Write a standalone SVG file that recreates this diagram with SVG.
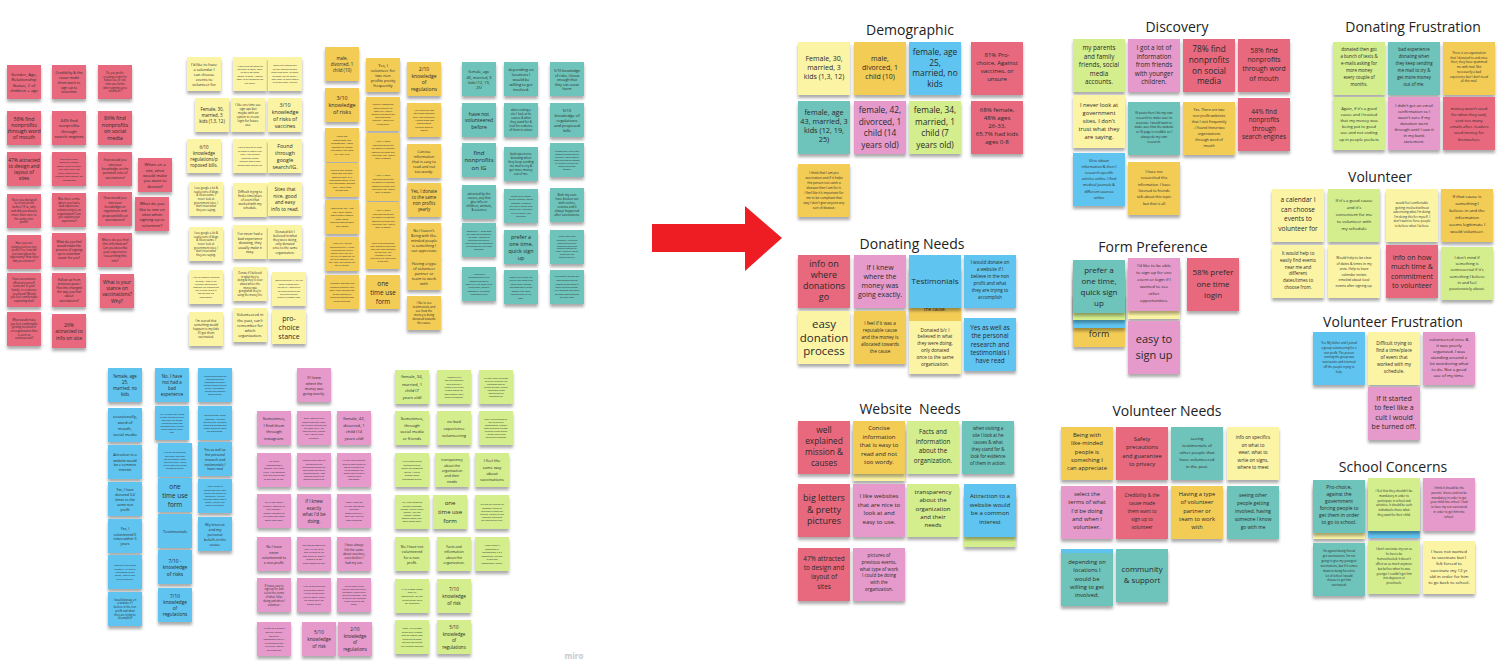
<svg xmlns="http://www.w3.org/2000/svg" width="1500" height="661" viewBox="0 0 1500 661">
<defs>
<filter id="sh" x="-20%" y="-20%" width="140%" height="160%"><feDropShadow dx="0" dy="3" stdDeviation="1.6" flood-color="#000" flood-opacity="0.33"/></filter>
<style>
rect{filter:url(#sh)}
.r{fill:#E8697D}.p{fill:#E59ACB}.y{fill:#FCF4A5}.g{fill:#F3CC57}.b{fill:#5EC4EF}.t{fill:#6EC3BA}.l{fill:#D4EE8D}
text{font-family:"Open Sans","Noto Sans",sans-serif;fill:#2a2a2a;text-anchor:middle;dominant-baseline:central}
.ttl{font-size:14px;fill:#222;dominant-baseline:auto}
.arrow{fill:#EE1D23}
.miro{fill:#c9c9c9;font-weight:bold;dominant-baseline:auto}
</style>
</defs>
<rect width="1500" height="661" fill="#ffffff" style="filter:none"/>

<g id="connectors">
<polygon class="arrow" points="652,224 745,224 745,206 782,238 745,271 745,252 652,252"/>
</g>

<!-- LEFT: red questions -->
<g id="c1r1"><rect class="r" x="7" y="65" width="34" height="34"/><text x="24" y="74" font-size="4.3">Gender, Age,<tspan x="24" dy="5.3">Relationship</tspan><tspan x="24" dy="5.3">Status, # of</tspan><tspan x="24" dy="5.3">children + age</tspan></text></g>
<g id="c1r2"><rect class="r" x="7" y="111" width="34" height="34"/><text x="24" y="118.5" font-size="5.2">58% find<tspan x="24" dy="6.3">nonprofits</tspan><tspan x="24" dy="6.3">through word</tspan><tspan x="24" dy="6.3">of mouth</tspan></text></g>
<g id="c1r3"><rect class="r" x="7" y="152" width="34" height="34"/><text x="24" y="160" font-size="4.9">47% attracted<tspan x="24" dy="6">to design and</tspan><tspan x="24" dy="6">layout of</tspan><tspan x="24" dy="6">sites</tspan></text></g>
<g id="c1r4"><rect class="r" x="7" y="194" width="34" height="34"/><text x="24" y="199.6" font-size="2.9">Have you donated<tspan x="24" dy="3.8">to a non profit</tspan><tspan x="24" dy="3.8">before? If so, why</tspan><tspan x="24" dy="3.8">and did you donate</tspan><tspan x="24" dy="3.8">more than once to</tspan><tspan x="24" dy="3.8">the same non-</tspan><tspan x="24" dy="3.8">profit?</tspan></text></g>
<g id="c1r5"><rect class="r" x="7" y="235" width="34" height="34"/><text x="24" y="243" font-size="2.6">Have you ever<tspan x="24" dy="3.6">volunteered to a non-</tspan><tspan x="24" dy="3.6">profit? If so, how did</tspan><tspan x="24" dy="3.6">you learn about the</tspan><tspan x="24" dy="3.6">opportunity? How often</tspan><tspan x="24" dy="3.6">did you volunteer?</tspan></text></g>
<g id="c1r6"><rect class="r" x="7" y="273" width="34" height="34"/><text x="24" y="278.9" font-size="2.8">Have vaccinations<tspan x="24" dy="3.7">affected yourself,</tspan><tspan x="24" dy="3.7">someone in your</tspan><tspan x="24" dy="3.7">family, or someone</tspan><tspan x="24" dy="3.7">you know? Would</tspan><tspan x="24" dy="3.7">you feel comfortable</tspan><tspan x="24" dy="3.7">explaining that?</tspan></text></g>
<g id="c1r7"><rect class="r" x="7" y="312" width="34" height="34"/><text x="24" y="319.8" font-size="2.8">What would make<tspan x="24" dy="3.7">you feel comfortable</tspan><tspan x="24" dy="3.7">getting involved in</tspan><tspan x="24" dy="3.7">an organization that</tspan><tspan x="24" dy="3.7">is seen as</tspan><tspan x="24" dy="3.7">controversial?</tspan></text></g>
<g id="c2r1"><rect class="r" x="52" y="65" width="34" height="34"/><text x="69" y="72.8" font-size="3.6">Credibility &amp; the<tspan x="69" dy="4.6">cause made</tspan><tspan x="69" dy="4.6">them want to</tspan><tspan x="69" dy="4.6">sign up to</tspan><tspan x="69" dy="4.6">volunteer</tspan></text></g>
<g id="c2r2"><rect class="r" x="52" y="111" width="34" height="34"/><text x="69" y="120.2" font-size="4.2">44% find<tspan x="69" dy="5.2">nonprofits</tspan><tspan x="69" dy="5.2">through</tspan><tspan x="69" dy="5.2">search engines</tspan></text></g>
<g id="c2r3"><rect class="r" x="52" y="152" width="34" height="34"/><text x="69" y="158.5" font-size="2.5">bad experience<tspan x="69" dy="3.5">donating, money</tspan><tspan x="69" dy="3.5">wasn't used for what</tspan><tspan x="69" dy="3.5">they said, sent too</tspan><tspan x="69" dy="3.5">many emails after,</tspan><tspan x="69" dy="3.5">leaders used money for</tspan><tspan x="69" dy="3.5">themselves</tspan></text></g>
<g id="c2r4"><rect class="r" x="52" y="193" width="34" height="34"/><text x="69" y="198.9" font-size="2.8">Was there a time<tspan x="69" dy="3.7">where you had a</tspan><tspan x="69" dy="3.7">bad experience</tspan><tspan x="69" dy="3.7">volunteering to an</tspan><tspan x="69" dy="3.7">organization? Can</tspan><tspan x="69" dy="3.7">you explain your</tspan><tspan x="69" dy="3.7">experience?</tspan></text></g>
<g id="c2r5"><rect class="r" x="52" y="233" width="34" height="34"/><text x="69" y="241.6" font-size="3.2">What do you feel<tspan x="69" dy="4.2">would make the</tspan><tspan x="69" dy="4.2">process of signing</tspan><tspan x="69" dy="4.2">up to volunteer</tspan><tspan x="69" dy="4.2">easier for you?</tspan></text></g>
<g id="c2r6"><rect class="r" x="52" y="273" width="34" height="34"/><text x="69" y="279.5" font-size="3.2">(follow up from<tspan x="69" dy="4.2">previous ques.)</tspan><tspan x="69" dy="4.2">Has this changed</tspan><tspan x="69" dy="4.2">the way you feel</tspan><tspan x="69" dy="4.2">about</tspan><tspan x="69" dy="4.2">vaccinations?</tspan></text></g>
<g id="c2r7"><rect class="r" x="52" y="314" width="34" height="34"/><text x="69" y="324.5" font-size="5">26%<tspan x="69" dy="6.5">attracted to</tspan><tspan x="69" dy="6.5">info on site</tspan></text></g>
<g id="c3r1"><rect class="r" x="98" y="65" width="34" height="34"/><text x="115" y="72.8" font-size="2.7">Do you prefer<tspan x="115" dy="3.7">creating a login for</tspan><tspan x="115" dy="3.7">future use or one</tspan><tspan x="115" dy="3.7">time use forms</tspan><tspan x="115" dy="3.7">when signing up to</tspan><tspan x="115" dy="3.7">volunteer?</tspan></text></g>
<g id="c3r2"><rect class="r" x="98" y="111" width="34" height="34"/><text x="115" y="117.8" font-size="5.4">86% find<tspan x="115" dy="6.8">nonprofits</tspan><tspan x="115" dy="6.8">on social</tspan><tspan x="115" dy="6.8">media</tspan></text></g>
<g id="c3r3"><rect class="r" x="98" y="152" width="34" height="34"/><text x="115" y="160.4" font-size="3.2">How would you<tspan x="115" dy="4.3">rate your</tspan><tspan x="115" dy="4.3">knowledge on the</tspan><tspan x="115" dy="4.3">potential risks of</tspan><tspan x="115" dy="4.3">vaccinations?</tspan></text></g>
<g id="c3r4"><rect class="r" x="98" y="192" width="34" height="34"/><text x="115" y="198.3" font-size="3.2">How would you<tspan x="115" dy="4.3">rate your</tspan><tspan x="115" dy="4.3">knowledge on</tspan><tspan x="115" dy="4.3">regulations and</tspan><tspan x="115" dy="4.3">proposed bills on</tspan><tspan x="115" dy="4.3">vaccinations?</tspan></text></g>
<g id="c3r5"><rect class="r" x="98" y="233" width="34" height="34"/><text x="115" y="239.5" font-size="3.1">Where do you find<tspan x="115" dy="4.2">this information?</tspan><tspan x="115" dy="4.2">Can you describe</tspan><tspan x="115" dy="4.2">your experience</tspan><tspan x="115" dy="4.2">researching this</tspan><tspan x="115" dy="4.2">info?</tspan></text></g>
<g id="c3r6"><rect class="r" x="100" y="274" width="34" height="34"/><text x="117" y="281.6" font-size="4.8">What is your<tspan x="117" dy="6.3">stance on</tspan><tspan x="117" dy="6.3">vaccinations?</tspan><tspan x="117" dy="6.3">Why?</tspan></text></g>
<g id="c4a"><rect class="r" x="138" y="158" width="34" height="34"/><text x="155" y="164.4" font-size="4.2">When on a<tspan x="155" dy="5.3">site, what</tspan><tspan x="155" dy="5.3">would make</tspan><tspan x="155" dy="5.3">you want to</tspan><tspan x="155" dy="5.3">donate?</tspan></text></g>
<g id="c4b"><rect class="r" x="135" y="197" width="34" height="34"/><text x="152" y="203.4" font-size="4.2">What do you<tspan x="152" dy="5.3">like to see on</tspan><tspan x="152" dy="5.3">sites when</tspan><tspan x="152" dy="5.3">signing up to</tspan><tspan x="152" dy="5.3">volunteer?</tspan></text></g>

<!-- LEFT: light yellow -->
<g id="y1"><rect class="y" x="187" y="57" width="34" height="34"/><text x="204" y="64" font-size="3.9">I'd like to have<tspan x="204" dy="5">a calendar I</tspan><tspan x="204" dy="5">can choose</tspan><tspan x="204" dy="5">events to</tspan><tspan x="204" dy="5">volunteer for</tspan></text></g>
<g id="y2"><rect class="y" x="233" y="57" width="34" height="34"/><text x="250" y="65.5" font-size="2.4">Would info on specifics<tspan x="250" dy="3.4">on what to wear, what</tspan><tspan x="250" dy="3.4">to write on signs,</tspan><tspan x="250" dy="3.4">where to meet. I would</tspan><tspan x="250" dy="3.4">want to be prepared for</tspan><tspan x="250" dy="3.4">the event.</tspan></text></g>
<g id="y3"><rect class="y" x="268" y="57" width="34" height="34"/><text x="285" y="65.75" font-size="2.2">would feel comfortable<tspan x="285" dy="3.3">getting involved without</tspan><tspan x="285" dy="3.3">advertising what I'm doing.</tspan><tspan x="285" dy="3.3">I'm doing this for myself. I</tspan><tspan x="285" dy="3.3">don't want to force people</tspan><tspan x="285" dy="3.3">to believe what I believe.</tspan></text></g>
<g id="y4"><rect class="y" x="195" y="98" width="34" height="34"/><text x="212" y="109" font-size="4.4">Female, 30,<tspan x="212" dy="6">married, 3</tspan><tspan x="212" dy="6">kids (1,3, 12)</tspan></text></g>
<g id="y5"><rect class="y" x="231" y="98" width="34" height="34"/><text x="248" y="105" font-size="3">I like one time use<tspan x="248" dy="4">sign ups but</tspan><tspan x="248" dy="4">maybe with an</tspan><tspan x="248" dy="4">option to create</tspan><tspan x="248" dy="4">login for future</tspan><tspan x="248" dy="4">use.</tspan></text></g>
<g id="y6"><rect class="y" x="268" y="98" width="34" height="34"/><text x="285" y="104.5" font-size="5.3">3/10<tspan x="285" dy="7">knowledge</tspan><tspan x="285" dy="7">of risks of</tspan><tspan x="285" dy="7">vaccines</tspan></text></g>
<g id="y7"><rect class="y" x="187" y="139" width="34" height="34"/><text x="204" y="147" font-size="4.4">6/10<tspan x="204" dy="6">knowledge</tspan><tspan x="204" dy="6">regulations/p</tspan><tspan x="204" dy="6">roposed bills.</tspan></text></g>
<g id="y8"><rect class="y" x="233" y="139" width="34" height="34"/><text x="250" y="147.5" font-size="2.3">Would help to be clear<tspan x="250" dy="3.4">of dates &amp; times in my</tspan><tspan x="250" dy="3.4">area. Help to have</tspan><tspan x="250" dy="3.4">calendar invites</tspan><tspan x="250" dy="3.4">emailed about local</tspan><tspan x="250" dy="3.4">events after signing up.</tspan></text></g>
<g id="y9"><rect class="y" x="268" y="139" width="34" height="34"/><text x="285" y="145.5" font-size="5.3">Found<tspan x="285" dy="7">through</tspan><tspan x="285" dy="7">google</tspan><tspan x="285" dy="7">search/IG.</tspan></text></g>
<g id="y10"><rect class="y" x="189" y="182" width="34" height="34"/><text x="206" y="187.9" font-size="2.7">I use google a lot &amp;<tspan x="206" dy="3.7">read a tons of blogs</tspan><tspan x="206" dy="3.7">&amp; IG accounts. I</tspan><tspan x="206" dy="3.7">never look at</tspan><tspan x="206" dy="3.7">government sites, I</tspan><tspan x="206" dy="3.7">don't trust what</tspan><tspan x="206" dy="3.7">they are saying.</tspan></text></g>
<g id="y11"><rect class="y" x="233" y="183" width="34" height="34"/><text x="250" y="191.6" font-size="3.1">Difficult trying to<tspan x="250" dy="4.2">find a time/place</tspan><tspan x="250" dy="4.2">of event that</tspan><tspan x="250" dy="4.2">worked with my</tspan><tspan x="250" dy="4.2">schedule.</tspan></text></g>
<g id="y12"><rect class="y" x="268" y="182" width="34" height="34"/><text x="285" y="189.25" font-size="4.9">Sites that<tspan x="285" dy="6.5">nice, good</tspan><tspan x="285" dy="6.5">and easy</tspan><tspan x="285" dy="6.5">info to read.</tspan></text></g>
<g id="y13"><rect class="y" x="189" y="227" width="34" height="34"/><text x="206" y="232.9" font-size="2.7">I use google a lot &amp;<tspan x="206" dy="3.7">read a tons of blogs</tspan><tspan x="206" dy="3.7">&amp; IG accounts. I</tspan><tspan x="206" dy="3.7">never look at</tspan><tspan x="206" dy="3.7">government sites, I</tspan><tspan x="206" dy="3.7">don't trust what</tspan><tspan x="206" dy="3.7">they are saying.</tspan></text></g>
<g id="y14"><rect class="y" x="233" y="225" width="34" height="34"/><text x="250" y="233" font-size="3.4">I've never had a<tspan x="250" dy="4.5">bad experience</tspan><tspan x="250" dy="4.5">donating, they</tspan><tspan x="250" dy="4.5">usually make it</tspan><tspan x="250" dy="4.5">easy.</tspan></text></g>
<g id="y15"><rect class="y" x="268" y="225" width="34" height="34"/><text x="285" y="231.5" font-size="3.1">Donated b/c I<tspan x="285" dy="4.2">believed in what</tspan><tspan x="285" dy="4.2">they were doing,</tspan><tspan x="285" dy="4.2">only donated</tspan><tspan x="285" dy="4.2">once to the same</tspan><tspan x="285" dy="4.2">organization.</tspan></text></g>
<g id="y16"><rect class="y" x="189" y="270" width="34" height="34"/><text x="206" y="277.4" font-size="2.2">I like to research things on<tspan x="206" dy="3.2">my own. I look at the</tspan><tspan x="206" dy="3.2">different sources and</tspan><tspan x="206" dy="3.2">compare the information</tspan><tspan x="206" dy="3.2">that is given to me by</tspan><tspan x="206" dy="3.2">doctors and the</tspan><tspan x="206" dy="3.2">government.</tspan></text></g>
<g id="y17"><rect class="y" x="233" y="267" width="34" height="34"/><text x="250" y="273.2" font-size="2.6">Donate if I believed<tspan x="250" dy="3.6">in what they're</tspan><tspan x="250" dy="3.6">doing &amp; they're clear</tspan><tspan x="250" dy="3.6">about where the</tspan><tspan x="250" dy="3.6">money was</tspan><tspan x="250" dy="3.6">going/what they're</tspan><tspan x="250" dy="3.6">using the money for.</tspan></text></g>
<g id="y18"><rect class="y" x="272" y="272" width="34" height="34"/><text x="289" y="280.75" font-size="2.2">would volunteer if I felt the<tspan x="289" dy="3.3">cause is something I</tspan><tspan x="289" dy="3.3">believe in. I would stay</tspan><tspan x="289" dy="3.3">with one organization</tspan><tspan x="289" dy="3.3">and find different</tspan><tspan x="289" dy="3.3">events to choose from.</tspan></text></g>
<g id="y19"><rect class="y" x="189" y="312" width="34" height="34"/><text x="206" y="321" font-size="3">I'm scared that<tspan x="206" dy="4">something would</tspan><tspan x="206" dy="4">happen to my kids</tspan><tspan x="206" dy="4">if I get them</tspan><tspan x="206" dy="4">vaccinated.</tspan></text></g>
<g id="y20"><rect class="y" x="233" y="308" width="34" height="34"/><text x="250" y="314.6" font-size="3.9">Volunteered in<tspan x="250" dy="5.2">the past, can't</tspan><tspan x="250" dy="5.2">remember for</tspan><tspan x="250" dy="5.2">which</tspan><tspan x="250" dy="5.2">organization.</tspan></text></g>
<g id="y21"><rect class="y" x="272" y="310" width="34" height="34"/><text x="289" y="318.5" font-size="7">pro-<tspan x="289" dy="8.5">choice</tspan><tspan x="289" dy="8.5">stance</tspan></text></g>

<!-- LEFT: gold -->
<g id="g1a"><rect class="g" x="325" y="47" width="34" height="34"/><text x="342" y="58" font-size="4.4">male,<tspan x="342" dy="6">divorced, 1</tspan><tspan x="342" dy="6">child (10)</tspan></text></g>
<g id="g1b"><rect class="g" x="325" y="88" width="34" height="34"/><text x="342" y="98" font-size="5.4">3/10<tspan x="342" dy="7">knowledge</tspan><tspan x="342" dy="7">of risks</tspan></text></g>
<g id="g1c"><rect class="g" x="325" y="128" width="34" height="34"/><text x="342" y="136.25" font-size="2.5">I have not<tspan x="342" dy="3.5">researched this</tspan><tspan x="342" dy="3.5">information. I have</tspan><tspan x="342" dy="3.5">listened to friends</tspan><tspan x="342" dy="3.5">talk about this topic</tspan><tspan x="342" dy="3.5">but that is all</tspan></text></g>
<g id="g1d"><rect class="g" x="325" y="163" width="34" height="34"/><text x="342" y="170.1" font-size="2.3">There is one person I<tspan x="342" dy="3.3">know that has been</tspan><tspan x="342" dy="3.3">affected badly by a</tspan><tspan x="342" dy="3.3">vaccination which is like</tspan><tspan x="342" dy="3.3">the vaccination. Besides</tspan><tspan x="342" dy="3.3">that, I don't know</tspan><tspan x="342" dy="3.3">anyone else.</tspan></text></g>
<g id="g1e"><rect class="g" x="325" y="200" width="34" height="34"/><text x="342" y="208.25" font-size="2.5">I would say no, I feel<tspan x="342" dy="3.5">like I have heard</tspan><tspan x="342" dy="3.5">more about people</tspan><tspan x="342" dy="3.5">have taken</tspan><tspan x="342" dy="3.5">vaccinations without</tspan><tspan x="342" dy="3.5">any issues</tspan></text></g>
<g id="g1f"><rect class="g" x="325" y="237" width="34" height="34"/><text x="342" y="243.5" font-size="2.1">I think that I am pro<tspan x="342" dy="3">vaccination and if it helps</tspan><tspan x="342" dy="3">the person not catch a</tspan><tspan x="342" dy="3">disease then I am for it.</tspan><tspan x="342" dy="3">I feel like it's important for</tspan><tspan x="342" dy="3">me to be compliant that</tspan><tspan x="342" dy="3">way I don't give anyone any</tspan><tspan x="342" dy="3">sort of disease.</tspan></text></g>
<g id="g1g"><rect class="g" x="325" y="275" width="34" height="34"/><text x="342" y="283.5" font-size="2.3">I probably wouldn't get<tspan x="342" dy="3.4">involved because right</tspan><tspan x="342" dy="3.4">now I have decided not</tspan><tspan x="342" dy="3.4">to get involved in</tspan><tspan x="342" dy="3.4">anything controversial</tspan><tspan x="342" dy="3.4">during this time.</tspan></text></g>
<g id="g2a"><rect class="g" x="366" y="58" width="34" height="34"/><text x="383" y="65" font-size="4">Yes, I<tspan x="383" dy="5">volunteer for</tspan><tspan x="383" dy="5">two non</tspan><tspan x="383" dy="5">profits pretty</tspan><tspan x="383" dy="5">frequently</tspan></text></g>
<g id="g2b"><rect class="g" x="366" y="97" width="34" height="34"/><text x="383" y="104.4" font-size="2.2">Finding a companion<tspan x="383" dy="3.2">would probably be</tspan><tspan x="383" dy="3.2">more fun. I have a</tspan><tspan x="383" dy="3.2">daughter so maybe we</tspan><tspan x="383" dy="3.2">could volunteer</tspan><tspan x="383" dy="3.2">together. I would like</tspan><tspan x="383" dy="3.2">to volunteer.</tspan></text></g>
<g id="g2c"><rect class="g" x="366" y="133" width="34" height="34"/><text x="383" y="141.75" font-size="2.2">I feel if it was a<tspan x="383" dy="3.3">reputable cause and</tspan><tspan x="383" dy="3.3">the money is allocated</tspan><tspan x="383" dy="3.3">towards the cause and</tspan><tspan x="383" dy="3.3">I could see that I would</tspan><tspan x="383" dy="3.3">want to donate</tspan></text></g>
<g id="g2d"><rect class="g" x="366" y="167" width="34" height="34"/><text x="383" y="175.75" font-size="2.2">I feel if it was a<tspan x="383" dy="3.3">reputable cause and</tspan><tspan x="383" dy="3.3">the money is allocated</tspan><tspan x="383" dy="3.3">towards the cause and</tspan><tspan x="383" dy="3.3">I could see that I would</tspan><tspan x="383" dy="3.3">want to donate</tspan></text></g>
<g id="g2e"><rect class="g" x="366" y="202" width="34" height="34"/><text x="383" y="210.75" font-size="2.2">I feel if it was a<tspan x="383" dy="3.3">reputable cause and</tspan><tspan x="383" dy="3.3">the money is allocated</tspan><tspan x="383" dy="3.3">towards the cause and</tspan><tspan x="383" dy="3.3">I could see that I would</tspan><tspan x="383" dy="3.3">want to donate</tspan></text></g>
<g id="g2f"><rect class="g" x="366" y="235" width="34" height="34"/><text x="383" y="243" font-size="2">There is an organization<tspan x="383" dy="3">that I donated to and since</tspan><tspan x="383" dy="3">then, they have spammed</tspan><tspan x="383" dy="3">me with mail. Not</tspan><tspan x="383" dy="3">necessarily a bad</tspan><tspan x="383" dy="3">experience but I don't need</tspan><tspan x="383" dy="3">all this mail.</tspan></text></g>
<g id="g2g"><rect class="g" x="366" y="275" width="34" height="34"/><text x="383" y="283.5" font-size="6.4">one<tspan x="383" dy="8.5">time use</tspan><tspan x="383" dy="8.5">form</tspan></text></g>
<g id="g3a"><rect class="g" x="407" y="62" width="34" height="34"/><text x="424" y="69.25" font-size="5">2/10<tspan x="424" dy="6.5">knowledge</tspan><tspan x="424" dy="6.5">of</tspan><tspan x="424" dy="6.5">regulations</tspan></text></g>
<g id="g3b"><rect class="g" x="407" y="103" width="34" height="34"/><text x="424" y="110.1" font-size="2.3">Yes. There are two<tspan x="424" dy="3.3">non profit websites</tspan><tspan x="424" dy="3.3">that I visit frequently</tspan><tspan x="424" dy="3.3">. I found these two</tspan><tspan x="424" dy="3.3">organizations</tspan><tspan x="424" dy="3.3">through word of</tspan><tspan x="424" dy="3.3">mouth</tspan></text></g>
<g id="g3c"><rect class="g" x="407" y="144" width="34" height="34"/><text x="424" y="151.4" font-size="3.7">Concise<tspan x="424" dy="4.8">information</tspan><tspan x="424" dy="4.8">that is easy to</tspan><tspan x="424" dy="4.8">read and not</tspan><tspan x="424" dy="4.8">too wordy.</tspan></text></g>
<g id="g3d"><rect class="g" x="407" y="183" width="34" height="34"/><text x="424" y="191" font-size="4.4">Yes, I donate<tspan x="424" dy="6">to the same</tspan><tspan x="424" dy="6">non profits</tspan><tspan x="424" dy="6">yearly</tspan></text></g>
<g id="g3e"><rect class="g" x="407" y="223" width="34" height="34"/><text x="424" y="230.4" font-size="3.7">No I haven't.<tspan x="424" dy="4.8">Being with like-</tspan><tspan x="424" dy="4.8">minded people</tspan><tspan x="424" dy="4.8">is something I</tspan><tspan x="424" dy="4.8">can appreciate</tspan></text></g>
<g id="g3f"><rect class="g" x="407" y="256" width="34" height="34"/><text x="424" y="263" font-size="3.9">Having a type<tspan x="424" dy="5">of volunteer</tspan><tspan x="424" dy="5">partner or</tspan><tspan x="424" dy="5">team to work</tspan><tspan x="424" dy="5">with</tspan></text></g>
<g id="g3g"><rect class="g" x="407" y="296" width="34" height="34"/><text x="424" y="303" font-size="2.9">I like to see<tspan x="424" dy="4">testimonials and</tspan><tspan x="424" dy="4">see how the</tspan><tspan x="424" dy="4">money is being</tspan><tspan x="424" dy="4">donated towards</tspan><tspan x="424" dy="4">the cause.</tspan></text></g>

<!-- LEFT: teal -->
<g id="t1a"><rect class="t" x="462" y="62" width="34" height="34"/><text x="479" y="71.5" font-size="3.9">female, age<tspan x="479" dy="5">43, married, 3</tspan><tspan x="479" dy="5">kids (12, 19,</tspan><tspan x="479" dy="5">25)</tspan></text></g>
<g id="t1b"><rect class="t" x="462" y="103" width="34" height="34"/><text x="479" y="113.5" font-size="5">have not<tspan x="479" dy="6.5">volunteered</tspan><tspan x="479" dy="6.5">before</tspan></text></g>
<g id="t1c"><rect class="t" x="462" y="143" width="34" height="34"/><text x="479" y="152.5" font-size="6">find<tspan x="479" dy="7.5">nonprofits</tspan><tspan x="479" dy="7.5">on IG</tspan></text></g>
<g id="t1d"><rect class="t" x="462" y="185" width="34" height="34"/><text x="479" y="193.6" font-size="3.1">attracted by the<tspan x="479" dy="4.2">causes, any that</tspan><tspan x="479" dy="4.2">give info on</tspan><tspan x="479" dy="4.2">children, animals,</tspan><tspan x="479" dy="4.2">&amp; sciences</tspan></text></g>
<g id="t1e"><rect class="t" x="462" y="223" width="34" height="34"/><text x="479" y="231" font-size="2">Donated to 1. I agree what<tspan x="479" dy="3">they stand for &amp; what they</tspan><tspan x="479" dy="3">are doing. I donated to</tspan><tspan x="479" dy="3">them once and so they</tspan><tspan x="479" dy="3">keep coming with updates on</tspan><tspan x="479" dy="3">the projects they fund from</tspan><tspan x="479" dy="3">donations.</tspan></text></g>
<g id="t1f"><rect class="t" x="462" y="267" width="34" height="34"/><text x="479" y="274.1" font-size="2.2">It would be<tspan x="479" dy="3.3">uncomfortable to be</tspan><tspan x="479" dy="3.3">involved no matter</tspan><tspan x="479" dy="3.3">what but if I'm going to be</tspan><tspan x="479" dy="3.3">a challenge, having a</tspan><tspan x="479" dy="3.3">community &amp; support</tspan><tspan x="479" dy="3.3">team would help</tspan></text></g>
<g id="t2a"><rect class="t" x="504" y="62" width="34" height="34"/><text x="521" y="69" font-size="3.9">depending on<tspan x="521" dy="5">locations I</tspan><tspan x="521" dy="5">would be</tspan><tspan x="521" dy="5">willing to get</tspan><tspan x="521" dy="5">involved.</tspan></text></g>
<g id="t2b"><rect class="t" x="504" y="103" width="34" height="34"/><text x="521" y="110" font-size="2.9">when visiting a<tspan x="521" dy="4">site I look at he</tspan><tspan x="521" dy="4">causes &amp; what</tspan><tspan x="521" dy="4">they stand for &amp;</tspan><tspan x="521" dy="4">look for evidence</tspan><tspan x="521" dy="4">of them in action.</tspan></text></g>
<g id="t2c"><rect class="t" x="504" y="147" width="34" height="34"/><text x="521" y="154" font-size="3">bad experience<tspan x="521" dy="4">donating when</tspan><tspan x="521" dy="4">they keep sending</tspan><tspan x="521" dy="4">me mail to try &amp;</tspan><tspan x="521" dy="4">get more money</tspan><tspan x="521" dy="4">out of me.</tspan></text></g>
<g id="t2d"><rect class="t" x="504" y="189" width="34" height="34"/><text x="521" y="196.1" font-size="2.2">seeing other people<tspan x="521" dy="3.3">getting involved, having</tspan><tspan x="521" dy="3.3">someone I know go</tspan><tspan x="521" dy="3.3">with me &amp; having local</tspan><tspan x="521" dy="3.3">events that I can easily</tspan><tspan x="521" dy="3.3">get to &amp; when I can</tspan><tspan x="521" dy="3.3">volunteer</tspan></text></g>
<g id="t2e"><rect class="t" x="504" y="230" width="34" height="34"/><text x="521" y="236.5" font-size="5.4">prefer a<tspan x="521" dy="7">one time,</tspan><tspan x="521" dy="7">quick sign</tspan><tspan x="521" dy="7">up</tspan></text></g>
<g id="t2f"><rect class="t" x="504" y="270" width="34" height="34"/><text x="521" y="276.5" font-size="2.4">would like to see the<tspan x="521" dy="3.5">tech &amp; the team's for</tspan><tspan x="521" dy="3.5">each event. seeing</tspan><tspan x="521" dy="3.5">testimonials of other</tspan><tspan x="521" dy="3.5">people that have</tspan><tspan x="521" dy="3.5">volunteered in the</tspan><tspan x="521" dy="3.5">past.</tspan></text></g>
<g id="t3a"><rect class="t" x="550" y="62" width="34" height="34"/><text x="567" y="70" font-size="3.5">5/10 knowledge<tspan x="567" dy="4.5">of risks. I know</tspan><tspan x="567" dy="4.5">enough that</tspan><tspan x="567" dy="4.5">they can cause</tspan><tspan x="567" dy="4.5">harm</tspan></text></g>
<g id="t3b"><rect class="t" x="550" y="103" width="34" height="34"/><text x="567" y="110" font-size="4">5/10<tspan x="567" dy="5">knowledge of</tspan><tspan x="567" dy="5">regulations</tspan><tspan x="567" dy="5">and proposed</tspan><tspan x="567" dy="5">bills</tspan></text></g>
<g id="t3c"><rect class="t" x="550" y="143" width="34" height="34"/><text x="567" y="151" font-size="2">IG posts then I do my own<tspan x="567" dy="3">research to make sure its</tspan><tspan x="567" dy="3">accurate. I would want to</tspan><tspan x="567" dy="3">make sure that the website</tspan><tspan x="567" dy="3">or IG page is credible so I</tspan><tspan x="567" dy="3">always do my own</tspan><tspan x="567" dy="3">research.</tspan></text></g>
<g id="t3d"><rect class="t" x="550" y="188" width="34" height="34"/><text x="567" y="195" font-size="3">Both my sons<tspan x="567" dy="4">have broken out</tspan><tspan x="567" dy="4">with rashes,</tspan><tspan x="567" dy="4">eczema and it</tspan><tspan x="567" dy="4">always happened</tspan><tspan x="567" dy="4">after vaccinations.</tspan></text></g>
<g id="t3e"><rect class="t" x="550" y="230" width="34" height="34"/><text x="567" y="236.85" font-size="1.9">Unless I was to visit<tspan x="567" dy="2.9">specifically, I'd agree to</tspan><tspan x="567" dy="2.9">attend but having my</tspan><tspan x="567" dy="2.9">calendar to look at and</tspan><tspan x="567" dy="2.9">schedule ahead for my</tspan><tspan x="567" dy="2.9">family. Taking my kids to</tspan><tspan x="567" dy="2.9">things that I can</tspan><tspan x="567" dy="2.9">schedule to get to.</tspan></text></g>
<g id="t3f"><rect class="t" x="550" y="270" width="34" height="34"/><text x="567" y="276.8" font-size="2.3">Pro-choice, against the<tspan x="567" dy="3.4">government forcing</tspan><tspan x="567" dy="3.4">people to get them in</tspan><tspan x="567" dy="3.4">order to go to school.</tspan><tspan x="567" dy="3.4">My youngest has had a</tspan><tspan x="567" dy="3.4">lot more vaccines than</tspan><tspan x="567" dy="3.4">my older one.</tspan></text></g>

<!-- LEFT: blue -->
<g id="b1a"><rect class="b" x="108" y="368" width="34" height="34"/><text x="125" y="376" font-size="4.4">female, age<tspan x="125" dy="6">25,</tspan><tspan x="125" dy="6">married, no</tspan><tspan x="125" dy="6">kids</tspan></text></g>
<g id="b1b"><rect class="b" x="108" y="408" width="34" height="34"/><text x="125" y="416.3" font-size="4.1">occasionally,<tspan x="125" dy="5.8">word of</tspan><tspan x="125" dy="5.8">mouth,</tspan><tspan x="125" dy="5.8">social media</tspan></text></g>
<g id="b1c"><rect class="b" x="108" y="445" width="34" height="34"/><text x="125" y="454.8" font-size="3.5">Attraction to a<tspan x="125" dy="4.8">website would</tspan><tspan x="125" dy="4.8">be a common</tspan><tspan x="125" dy="4.8">interest</tspan></text></g>
<g id="b1d"><rect class="b" x="108" y="482" width="34" height="34"/><text x="125" y="489.4" font-size="3.5">Yes, I have<tspan x="125" dy="4.8">donated 3-4</tspan><tspan x="125" dy="4.8">times to the</tspan><tspan x="125" dy="4.8">same non</tspan><tspan x="125" dy="4.8">profit</tspan></text></g>
<g id="b1e"><rect class="b" x="108" y="519" width="34" height="34"/><text x="125" y="528.8" font-size="3.5">Yes, I<tspan x="125" dy="4.8">volunteered 5</tspan><tspan x="125" dy="4.8">times within 3</tspan><tspan x="125" dy="4.8">years</tspan></text></g>
<g id="b1f"><rect class="b" x="108" y="555" width="34" height="34"/><text x="125" y="565.2" font-size="2.3">Interest in the cause<tspan x="125" dy="3.4">primarily. If I have a</tspan><tspan x="125" dy="3.4">connection to the</tspan><tspan x="125" dy="3.4">cause, I would love</tspan><tspan x="125" dy="3.4">to be of service.</tspan></text></g>
<g id="b1g"><rect class="b" x="108" y="592" width="34" height="34"/><text x="125" y="599.75" font-size="2.7">I would donate on<tspan x="125" dy="3.7">a website if I</tspan><tspan x="125" dy="3.7">believe in the non</tspan><tspan x="125" dy="3.7">profit and what</tspan><tspan x="125" dy="3.7">they are trying to</tspan><tspan x="125" dy="3.7">accomplish</tspan></text></g>
<g id="b2a"><rect class="b" x="155" y="368" width="34" height="34"/><text x="172" y="376" font-size="4.4">No, I have<tspan x="172" dy="6">not had a</tspan><tspan x="172" dy="6">bad</tspan><tspan x="172" dy="6">experience</tspan></text></g>
<g id="b2b"><rect class="b" x="155" y="406" width="34" height="34"/><text x="172" y="414" font-size="2">Yes. My father and I joined<tspan x="172" dy="3">a group volunteering for a</tspan><tspan x="172" dy="3">non profit. The person</tspan><tspan x="172" dy="3">running the group was</tspan><tspan x="172" dy="3">narcissistic and it turned</tspan><tspan x="172" dy="3">off the people trying to</tspan><tspan x="172" dy="3">help.</tspan></text></g>
<g id="b2c"><rect class="b" x="158" y="443" width="34" height="34"/><text x="175" y="452.5" font-size="2">If it's able to provide my<tspan x="175" dy="3">non profit I can profit</tspan><tspan x="175" dy="3">and the content I would</tspan><tspan x="175" dy="3">refer to a friend. I would</tspan><tspan x="175" dy="3">like to know if the events</tspan><tspan x="175" dy="3">are safe for people.</tspan></text></g>
<g id="b2d"><rect class="b" x="158" y="478" width="34" height="34"/><text x="175" y="486.5" font-size="6.4">one<tspan x="175" dy="8.5">time use</tspan><tspan x="175" dy="8.5">form</tspan></text></g>
<g id="b2e"><rect class="b" x="158" y="514" width="34" height="34"/><text x="175" y="531" font-size="4.1">Testimonials</text></g>
<g id="b2f"><rect class="b" x="158" y="550" width="34" height="34"/><text x="175" y="560.5" font-size="4.9">7/10 -<tspan x="175" dy="6.5">knowledge</tspan><tspan x="175" dy="6.5">of risks</tspan></text></g>
<g id="b2g"><rect class="b" x="158" y="588" width="34" height="34"/><text x="175" y="596" font-size="4.7">7/10<tspan x="175" dy="6">knowledge</tspan><tspan x="175" dy="6">of</tspan><tspan x="175" dy="6">regulations</tspan></text></g>
<g id="b3a"><rect class="b" x="198" y="368" width="34" height="34"/><text x="215" y="376" font-size="2">I follow organizations on<tspan x="215" dy="3">Instagram to obtain</tspan><tspan x="215" dy="3">information and then I</tspan><tspan x="215" dy="3">research specific articles</tspan><tspan x="215" dy="3">online. I find medical</tspan><tspan x="215" dy="3">journals and different</tspan><tspan x="215" dy="3">sources online.</tspan></text></g>
<g id="b3b"><rect class="b" x="198" y="406" width="34" height="34"/><text x="215" y="415.5" font-size="2">Social and now I follow<tspan x="215" dy="3">Instagram. I like social</tspan><tspan x="215" dy="3">media to help. The social</tspan><tspan x="215" dy="3">pages gets to know what</tspan><tspan x="215" dy="3">people are saying about</tspan><tspan x="215" dy="3">the organization.</tspan></text></g>
<g id="b3c"><rect class="b" x="198" y="442" width="34" height="34"/><text x="215" y="449.8" font-size="3.4">Yes as well as<tspan x="215" dy="4.6">the personal</tspan><tspan x="215" dy="4.6">research and</tspan><tspan x="215" dy="4.6">testimonials I</tspan><tspan x="215" dy="4.6">have read</tspan></text></g>
<g id="b3d"><rect class="b" x="198" y="479" width="34" height="34"/><text x="215" y="486.7" font-size="2.1">I don't believe in<tspan x="215" dy="3.1">vaccinations and I don't</tspan><tspan x="215" dy="3.1">believe they should be</tspan><tspan x="215" dy="3.1">mandatory. I believe</tspan><tspan x="215" dy="3.1">everyone should have a</tspan><tspan x="215" dy="3.1">choice. I believe that</tspan><tspan x="215" dy="3.1">choice is necessary.</tspan></text></g>
<g id="b3e"><rect class="b" x="198" y="517" width="34" height="34"/><text x="215" y="524.4" font-size="3.7">My interest<tspan x="215" dy="4.8">and my</tspan><tspan x="215" dy="4.8">personal</tspan><tspan x="215" dy="4.8">beliefs in the</tspan><tspan x="215" dy="4.8">cause.</tspan></text></g>

<!-- LEFT: pink -->
<g id="p2r0"><rect class="p" x="297" y="368" width="34" height="34"/><text x="314" y="377.5" font-size="3.5">If I knew<tspan x="314" dy="5">where the</tspan><tspan x="314" dy="5">money was</tspan><tspan x="314" dy="5">going exactly.</tspan></text></g>
<g id="p1r1"><rect class="p" x="257" y="411" width="34" height="34"/><text x="274" y="418.25" font-size="4.1">Sometimes,<tspan x="274" dy="6.5">I find them</tspan><tspan x="274" dy="6.5">through</tspan><tspan x="274" dy="6.5">instagram.</tspan></text></g>
<g id="p2r1"><rect class="p" x="297" y="411" width="34" height="34"/><text x="314" y="418.4" font-size="2.1">Once I donated to an<tspan x="314" dy="3.2">organization and I didn't</tspan><tspan x="314" dy="3.2">get an email confirmation</tspan><tspan x="314" dy="3.2">so I wasn't sure if my</tspan><tspan x="314" dy="3.2">donation went through</tspan><tspan x="314" dy="3.2">until I saw my bank</tspan><tspan x="314" dy="3.2">statement.</tspan></text></g>
<g id="p3r1"><rect class="p" x="337" y="411" width="34" height="34"/><text x="354" y="418.25" font-size="4.2">female, 42,<tspan x="354" dy="6.5">divorced, 1</tspan><tspan x="354" dy="6.5">child (14</tspan><tspan x="354" dy="6.5">years old)</tspan></text></g>
<g id="p1r2"><rect class="p" x="257" y="453" width="34" height="34"/><text x="274" y="461.25" font-size="2.3">If a friend<tspan x="274" dy="3.5">recommends a</tspan><tspan x="274" dy="3.5">website I will check</tspan><tspan x="274" dy="3.5">it out. I like websites</tspan><tspan x="274" dy="3.5">that are nice to look</tspan><tspan x="274" dy="3.5">at and easy to use.</tspan></text></g>
<g id="p2r2"><rect class="p" x="297" y="453" width="34" height="34"/><text x="314" y="460.7" font-size="2">Support a non profit but<tspan x="314" dy="3.1">volunteered to an</tspan><tspan x="314" dy="3.1">organization through my</tspan><tspan x="314" dy="3.1">work school and church</tspan><tspan x="314" dy="3.1">events organized, I was</tspan><tspan x="314" dy="3.1">standing around a lot</tspan><tspan x="314" dy="3.1">wondering what to do.</tspan></text></g>
<g id="p3r2"><rect class="p" x="337" y="453" width="34" height="34"/><text x="354" y="460.7" font-size="2">My son is older now and<tspan x="354" dy="3.1">when he was younger he</tspan><tspan x="354" dy="3.1">was on a schedule for</tspan><tspan x="354" dy="3.1">his vaccinations. The</tspan><tspan x="354" dy="3.1">doctor didn't explain if</tspan><tspan x="354" dy="3.1">it was ok to get</tspan><tspan x="354" dy="3.1">information.</tspan></text></g>
<g id="p1r3"><rect class="p" x="257" y="494" width="34" height="34"/><text x="274" y="502.25" font-size="2.4">Yes, a few times. I<tspan x="274" dy="3.5">recently donated to</tspan><tspan x="274" dy="3.5">BLM causes. I</tspan><tspan x="274" dy="3.5">haven't donated to</tspan><tspan x="274" dy="3.5">the same non profit</tspan><tspan x="274" dy="3.5">more than once.</tspan></text></g>
<g id="p2r3"><rect class="p" x="297" y="494" width="34" height="34"/><text x="314" y="501" font-size="4.5">If I knew<tspan x="314" dy="6.7">exactly</tspan><tspan x="314" dy="6.7">what I'd be</tspan><tspan x="314" dy="6.7">doing.</tspan></text></g>
<g id="p3r3"><rect class="p" x="337" y="494" width="34" height="34"/><text x="354" y="502" font-size="2.5">I don't think so.<tspan x="354" dy="3.6">My son has some</tspan><tspan x="354" dy="3.6">learning</tspan><tspan x="354" dy="3.6">disabilities but I</tspan><tspan x="354" dy="3.6">can't say they're</tspan><tspan x="354" dy="3.6">from vaccines.</tspan></text></g>
<g id="p1r4"><rect class="p" x="257" y="537" width="34" height="34"/><text x="274" y="546.5" font-size="3.5">No I have<tspan x="274" dy="5">never</tspan><tspan x="274" dy="5">volunteered to</tspan><tspan x="274" dy="5">a non-profit.</tspan></text></g>
<g id="p2r4"><rect class="p" x="297" y="537" width="34" height="34"/><text x="314" y="545.25" font-size="2.4">The option would be<tspan x="314" dy="3.5">nice. I'd like to be</tspan><tspan x="314" dy="3.5">able to sign up for</tspan><tspan x="314" dy="3.5">one event or login if</tspan><tspan x="314" dy="3.5">I wanted to see</tspan><tspan x="314" dy="3.5">other opportunities.</tspan></text></g>
<g id="p3r4"><rect class="p" x="337" y="537" width="34" height="34"/><text x="354" y="545.2" font-size="3.1">I have always<tspan x="354" dy="4.4">felt the same</tspan><tspan x="354" dy="4.4">about vaccines,</tspan><tspan x="354" dy="4.4">even before I</tspan><tspan x="354" dy="4.4">had my son.</tspan></text></g>
<g id="p1r5"><rect class="p" x="257" y="578" width="34" height="34"/><text x="274" y="585.5" font-size="2.7">If it was easy to<tspan x="274" dy="3.8">sign up for and</tspan><tspan x="274" dy="3.8">select the terms</tspan><tspan x="274" dy="3.8">of what I'd be</tspan><tspan x="274" dy="3.8">doing and when I</tspan><tspan x="274" dy="3.8">volunteer.</tspan></text></g>
<g id="p2r5"><rect class="p" x="297" y="578" width="34" height="34"/><text x="314" y="586.25" font-size="2.4">I like to see pictures<tspan x="314" dy="3.5">of previous events.</tspan><tspan x="314" dy="3.5">I'd like to see what</tspan><tspan x="314" dy="3.5">type of work I could</tspan><tspan x="314" dy="3.5">be doing with the</tspan><tspan x="314" dy="3.5">organization.</tspan></text></g>
<g id="p3r5"><rect class="p" x="337" y="578" width="34" height="34"/><text x="354" y="586" font-size="1.9">I think it should be the<tspan x="354" dy="3">parents' choice and not be</tspan><tspan x="354" dy="3">mandatory in order to get</tspan><tspan x="354" dy="3">your child into school. I had</tspan><tspan x="354" dy="3">to have my son vaccinated</tspan><tspan x="354" dy="3">in order to get him into</tspan><tspan x="354" dy="3">school.</tspan></text></g>
<g id="p1r6"><rect class="p" x="257" y="622" width="34" height="34"/><text x="274" y="628.5" font-size="2.3">As long as it aligned<tspan x="274" dy="3.5">with my values I</tspan><tspan x="274" dy="3.5">would be</tspan><tspan x="274" dy="3.5">comfortable with it.</tspan><tspan x="274" dy="3.5">If it started to feel</tspan><tspan x="274" dy="3.5">like a cult I would</tspan><tspan x="274" dy="3.5">be turned off.</tspan></text></g>
<g id="p2r6"><rect class="p" x="302" y="622" width="34" height="34"/><text x="319" y="632" font-size="4.7">5/10<tspan x="319" dy="7">knowledge</tspan><tspan x="319" dy="7">of risk</tspan></text></g>
<g id="p3r6"><rect class="p" x="338" y="622" width="34" height="34"/><text x="355" y="628.8" font-size="4.5">2/10<tspan x="355" dy="6.8">knowledge</tspan><tspan x="355" dy="6.8">of</tspan><tspan x="355" dy="6.8">regulations</tspan></text></g>

<!-- LEFT: light green -->
<g id="l1a"><rect class="l" x="395" y="370" width="34" height="34"/><text x="412" y="376.8" font-size="4.2">female, 34,<tspan x="412" dy="6.8">married, 1</tspan><tspan x="412" dy="6.8">child (7</tspan><tspan x="412" dy="6.8">years old)</tspan></text></g>
<g id="l2a"><rect class="l" x="437" y="370" width="34" height="34"/><text x="454" y="377.1" font-size="2.2">I donated to a<tspan x="454" dy="3.3">political campaign</tspan><tspan x="454" dy="3.3">and then got a</tspan><tspan x="454" dy="3.3">bunch of texts and</tspan><tspan x="454" dy="3.3">e-mails asking for</tspan><tspan x="454" dy="3.3">more money every</tspan><tspan x="454" dy="3.3">couple of months.</tspan></text></g>
<g id="l3a"><rect class="l" x="479" y="370" width="34" height="34"/><text x="496" y="378" font-size="1.9">My family never vaccinated<tspan x="496" dy="3">me or my siblings so I get</tspan><tspan x="496" dy="3">information from my</tspan><tspan x="496" dy="3">parents and family friends.</tspan><tspan x="496" dy="3">I follow social media</tspan><tspan x="496" dy="3">accounts that get</tspan><tspan x="496" dy="3">information out.</tspan></text></g>
<g id="l1b"><rect class="l" x="395" y="411" width="34" height="34"/><text x="412" y="418.25" font-size="4.1">Sometimes,<tspan x="412" dy="6.5">through</tspan><tspan x="412" dy="6.5">social media</tspan><tspan x="412" dy="6.5">or friends</tspan></text></g>
<g id="l2b"><rect class="l" x="437" y="411" width="34" height="34"/><text x="454" y="421.5" font-size="4.1">no bad<tspan x="454" dy="6.5">experience</tspan><tspan x="454" dy="6.5">volunteering</tspan></text></g>
<g id="l3b"><rect class="l" x="479" y="411" width="34" height="34"/><text x="496" y="419" font-size="1.9">Since I didn't vaccinate my<tspan x="496" dy="3">son, he has to be</tspan><tspan x="496" dy="3">homeschooled. It doesn't</tspan><tspan x="496" dy="3">affect us as much anymore</tspan><tspan x="496" dy="3">but when he was younger</tspan><tspan x="496" dy="3">I couldn't get him into</tspan><tspan x="496" dy="3">daycares or preschools.</tspan></text></g>
<g id="l1c"><rect class="l" x="395" y="453" width="34" height="34"/><text x="412" y="461.25" font-size="2.3">If it's related to an<tspan x="412" dy="3.5">interest of mine,</tspan><tspan x="412" dy="3.5">usually for shopping</tspan><tspan x="412" dy="3.5">online. I like to</tspan><tspan x="412" dy="3.5">support small</tspan><tspan x="412" dy="3.5">businesses online.</tspan></text></g>
<g id="l2c"><rect class="l" x="435" y="453" width="34" height="34"/><text x="452" y="459.2" font-size="3.5">transparency<tspan x="452" dy="5.4">about the</tspan><tspan x="452" dy="5.4">organization</tspan><tspan x="452" dy="5.4">and their</tspan><tspan x="452" dy="5.4">needs</tspan></text></g>
<g id="l3c"><rect class="l" x="475" y="453" width="34" height="34"/><text x="492" y="460.55" font-size="4.1">I feel the<tspan x="492" dy="6.3">same way</tspan><tspan x="492" dy="6.3">about</tspan><tspan x="492" dy="6.3">vaccinations</tspan></text></g>
<g id="l1d"><rect class="l" x="395" y="495" width="34" height="34"/><text x="412" y="502.7" font-size="2">Yes, I have donated to<tspan x="412" dy="3.1">Planned Parenthood</tspan><tspan x="412" dy="3.1">because I believe in their</tspan><tspan x="412" dy="3.1">mission. I feel that</tspan><tspan x="412" dy="3.1">because I support</tspan><tspan x="412" dy="3.1">women's health, and I</tspan><tspan x="412" dy="3.1">would donate again.</tspan></text></g>
<g id="l2d"><rect class="l" x="433" y="495" width="34" height="34"/><text x="450" y="503" font-size="6">one<tspan x="450" dy="9">time use</tspan><tspan x="450" dy="9">form</tspan></text></g>
<g id="l3d"><rect class="l" x="475" y="495" width="34" height="34"/><text x="492" y="504.5" font-size="1.9">I feel that they shouldn't be<tspan x="492" dy="3">mandatory in order to</tspan><tspan x="492" dy="3">participate in school and</tspan><tspan x="492" dy="3">activities. It should be each</tspan><tspan x="492" dy="3">individuals choice what</tspan><tspan x="492" dy="3">they want for their child.</tspan></text></g>
<g id="l1e"><rect class="l" x="395" y="537" width="34" height="34"/><text x="412" y="546.05" font-size="3.6">No I have not<tspan x="412" dy="5.3">volunteered</tspan><tspan x="412" dy="5.3">for a non-</tspan><tspan x="412" dy="5.3">profit.</tspan></text></g>
<g id="l2e"><rect class="l" x="437" y="537" width="34" height="34"/><text x="454" y="546.05" font-size="3.5">Facts and<tspan x="454" dy="5.3">information</tspan><tspan x="454" dy="5.3">about the</tspan><tspan x="454" dy="5.3">organization.</tspan></text></g>
<g id="l3e"><rect class="l" x="475" y="537" width="34" height="34"/><text x="492" y="545.25" font-size="2.3">I don't mind if<tspan x="492" dy="3.5">something is</tspan><tspan x="492" dy="3.5">controversial if it's</tspan><tspan x="492" dy="3.5">something I believe</tspan><tspan x="492" dy="3.5">in and feel</tspan><tspan x="492" dy="3.5">passionately about.</tspan></text></g>
<g id="l1f"><rect class="l" x="395" y="579" width="34" height="34"/><text x="412" y="588.6" font-size="2.5">If it's a good cause<tspan x="412" dy="3.7">and it's</tspan><tspan x="412" dy="3.7">convenient for me</tspan><tspan x="412" dy="3.7">to volunteer with</tspan><tspan x="412" dy="3.7">my schedule</tspan></text></g>
<g id="l2f"><rect class="l" x="437" y="579" width="34" height="34"/><text x="454" y="589" font-size="4.7">7/10<tspan x="454" dy="7">knowledge</tspan><tspan x="454" dy="7">of risk</tspan></text></g>
<g id="l1g"><rect class="l" x="395" y="620" width="34" height="34"/><text x="412" y="628.25" font-size="2.3">Again, if it's a good<tspan x="412" dy="3.5">cause and I trusted</tspan><tspan x="412" dy="3.5">that my money was</tspan><tspan x="412" dy="3.5">being put to good</tspan><tspan x="412" dy="3.5">use and not ending</tspan><tspan x="412" dy="3.5">up in people pockets</tspan></text></g>
<g id="l2g"><rect class="l" x="437" y="620" width="34" height="34"/><text x="454" y="626.8" font-size="4.5">5/10<tspan x="454" dy="6.8">knowledge</tspan><tspan x="454" dy="6.8">of</tspan><tspan x="454" dy="6.8">regulations</tspan></text></g>

<text class="miro" x="574" y="659" font-size="8">miro</text>

<!-- RIGHT: titles -->
<text class="ttl" x="910" y="35">Demographic</text>
<text class="ttl" x="1177" y="32">Discovery</text>
<text class="ttl" x="1413" y="31.5">Donating Frustration</text>
<text class="ttl" x="1380" y="182">Volunteer</text>
<text class="ttl" x="912" y="249">Donating Needs</text>
<text class="ttl" x="1153" y="252">Form Preference</text>
<text class="ttl" x="1393" y="327">Volunteer Frustration</text>
<text class="ttl" x="1393" y="472">School Concerns</text>
<text class="ttl" x="910" y="414" xml:space="preserve">Website  Needs</text>
<text class="ttl" x="1167" y="416">Volunteer Needs</text>

<!-- Demographic -->
<g id="dem1"><rect class="y" x="798" y="42" width="52" height="53"/><text x="824" y="58" font-size="7">Female, 30,<tspan x="824" dy="9">married, 3</tspan><tspan x="824" dy="9">kids (1,3, 12)</tspan></text></g>
<g id="dem2"><rect class="g" x="854" y="42" width="52" height="53"/><text x="880" y="58" font-size="7">male,<tspan x="880" dy="9">divorced, 1</tspan><tspan x="880" dy="9">child (10)</tspan></text></g>
<g id="dem3"><rect class="b" x="909" y="42" width="52" height="53"/><text x="935" y="51" font-size="8.3">female, age<tspan x="935" dy="10.5">25,</tspan><tspan x="935" dy="10.5">married, no</tspan><tspan x="935" dy="10.5">kids</tspan></text></g>
<g id="dem4"><rect class="r" x="971" y="42" width="52" height="53"/><text x="997" y="55" font-size="6">81% Pro-<tspan x="997" dy="8">choice, Against</tspan><tspan x="997" dy="8">vaccines, or</tspan><tspan x="997" dy="8">unsure</tspan></text></g>
<g id="dem5"><rect class="t" x="798" y="101" width="52" height="53"/><text x="824" y="112" font-size="7.3">female, age<tspan x="824" dy="9">43, married, 3</tspan><tspan x="824" dy="9">kids (12, 19,</tspan><tspan x="824" dy="9">25)</tspan></text></g>
<g id="dem6"><rect class="p" x="854" y="101" width="52" height="53"/><text x="880" y="109" font-size="8.3">female, 42,<tspan x="880" dy="11.5">divorced, 1</tspan><tspan x="880" dy="11.5">child (14</tspan><tspan x="880" dy="11.5">years old)</tspan></text></g>
<g id="dem7"><rect class="l" x="909" y="101" width="52" height="53"/><text x="935" y="109" font-size="8.3">female, 34,<tspan x="935" dy="11.5">married, 1</tspan><tspan x="935" dy="11.5">child (7</tspan><tspan x="935" dy="11.5">years old)</tspan></text></g>
<g id="dem8"><rect class="r" x="971" y="101" width="52" height="53"/><text x="997" y="109" font-size="6.1">68% female,<tspan x="997" dy="8">48% ages</tspan><tspan x="997" dy="8">26-33,</tspan><tspan x="997" dy="8">65.7% had kids</tspan><tspan x="997" dy="8">ages 0-8</tspan></text></g>
<g id="dem9"><rect class="g" x="798" y="164" width="52" height="53"/><text x="824" y="172.5" font-size="3.2">I think that I am pro<tspan x="824" dy="5">vaccination and if it helps</tspan><tspan x="824" dy="5">the person not catch a</tspan><tspan x="824" dy="5">disease then I am for it.</tspan><tspan x="824" dy="5">I feel like it's important for</tspan><tspan x="824" dy="5">me to be compliant that</tspan><tspan x="824" dy="5">way I don't give anyone any</tspan><tspan x="824" dy="5">sort of disease.</tspan></text></g>

<!-- Discovery -->
<g id="dis1"><rect class="l" x="1073" y="39" width="52" height="53"/><text x="1099" y="47" font-size="6.3">my parents<tspan x="1099" dy="8.5">and family</tspan><tspan x="1099" dy="8.5">friends, social</tspan><tspan x="1099" dy="8.5">media</tspan><tspan x="1099" dy="8.5">accounts.</tspan></text></g>
<g id="dis2"><rect class="p" x="1128" y="39" width="52" height="53"/><text x="1154" y="47" font-size="6.3">I got a lot of<tspan x="1154" dy="8.5">information</tspan><tspan x="1154" dy="8.5">from friends</tspan><tspan x="1154" dy="8.5">with younger</tspan><tspan x="1154" dy="8.5">children.</tspan></text></g>
<g id="dis3"><rect class="r" x="1183" y="39" width="52" height="53"/><text x="1209" y="48.3" font-size="8.3">78% find<tspan x="1209" dy="10.7">nonprofits</tspan><tspan x="1209" dy="10.7">on social</tspan><tspan x="1209" dy="10.7">media</tspan></text></g>
<g id="dis4"><rect class="r" x="1238" y="39" width="52" height="53"/><text x="1264" y="50" font-size="6.8">58% find<tspan x="1264" dy="9.2">nonprofits</tspan><tspan x="1264" dy="9.2">through word</tspan><tspan x="1264" dy="9.2">of mouth</tspan></text></g>
<g id="dis5"><rect class="y" x="1073" y="95" width="52" height="53"/><text x="1099" y="105" font-size="5.8">I never look at<tspan x="1099" dy="8">government</tspan><tspan x="1099" dy="8">sites, I don't</tspan><tspan x="1099" dy="8">trust what they</tspan><tspan x="1099" dy="8">are saying.</tspan></text></g>
<g id="dis6"><rect class="t" x="1128" y="102" width="52" height="53"/><text x="1154" y="113" font-size="3.1">IG posts then I do my own<tspan x="1154" dy="4.8">research to make sure its</tspan><tspan x="1154" dy="4.8">accurate. I would want to</tspan><tspan x="1154" dy="4.8">make sure that the website</tspan><tspan x="1154" dy="4.8">or IG page is credible so I</tspan><tspan x="1154" dy="4.8">always do my own</tspan><tspan x="1154" dy="4.8">research.</tspan></text></g>
<g id="dis7"><rect class="g" x="1183" y="102" width="52" height="53"/><text x="1209" y="109" font-size="3.6">Yes. There are two<tspan x="1209" dy="6">non profit websites</tspan><tspan x="1209" dy="6">that I visit frequently</tspan><tspan x="1209" dy="6">. I found these two</tspan><tspan x="1209" dy="6">organizations</tspan><tspan x="1209" dy="6">through word of</tspan><tspan x="1209" dy="6">mouth</tspan></text></g>
<g id="dis8"><rect class="r" x="1238" y="98" width="52" height="53"/><text x="1264" y="111" font-size="6.3">44% find<tspan x="1264" dy="8.3">nonprofits</tspan><tspan x="1264" dy="8.3">through</tspan><tspan x="1264" dy="8.3">search engines</tspan></text></g>
<g id="dis9"><rect class="b" x="1073" y="153" width="52" height="53"/><text x="1099" y="160" font-size="3.7">IG to obtain<tspan x="1099" dy="6.1">information &amp; then I</tspan><tspan x="1099" dy="6.1">research specific</tspan><tspan x="1099" dy="6.1">articles online. I find</tspan><tspan x="1099" dy="6.1">medical journals &amp;</tspan><tspan x="1099" dy="6.1">different sources</tspan><tspan x="1099" dy="6.1">online</tspan></text></g>
<g id="dis10"><rect class="g" x="1128" y="162" width="52" height="53"/><text x="1154" y="171" font-size="3.7">I have not<tspan x="1154" dy="6.3">researched this</tspan><tspan x="1154" dy="6.3">information. I have</tspan><tspan x="1154" dy="6.3">listened to friends</tspan><tspan x="1154" dy="6.3">talk about this topic</tspan><tspan x="1154" dy="6.3">but that is all</tspan></text></g>

<!-- Donating Frustration -->
<g id="df1"><rect class="l" x="1333" y="42" width="52" height="53"/><text x="1359" y="49.3" font-size="4.4">donated then got<tspan x="1359" dy="7">a bunch of texts &amp;</tspan><tspan x="1359" dy="7">e-mails asking for</tspan><tspan x="1359" dy="7">more money</tspan><tspan x="1359" dy="7">every couple of</tspan><tspan x="1359" dy="7">months.</tspan></text></g>
<g id="df2"><rect class="t" x="1388" y="42" width="52" height="53"/><text x="1414" y="49.3" font-size="4.4">bad experience<tspan x="1414" dy="7">donating when</tspan><tspan x="1414" dy="7">they keep sending</tspan><tspan x="1414" dy="7">me mail to try &amp;</tspan><tspan x="1414" dy="7">get more money</tspan><tspan x="1414" dy="7">out of me.</tspan></text></g>
<g id="df3"><rect class="g" x="1443" y="42" width="52" height="53"/><text x="1469" y="53" font-size="3">There is an organization<tspan x="1469" dy="4.7">that I donated to and since</tspan><tspan x="1469" dy="4.7">then, they have spammed</tspan><tspan x="1469" dy="4.7">me with mail. Not</tspan><tspan x="1469" dy="4.7">necessarily a bad</tspan><tspan x="1469" dy="4.7">experience but I don't need</tspan><tspan x="1469" dy="4.7">all this mail.</tspan></text></g>
<g id="df4"><rect class="l" x="1333" y="97" width="52" height="53"/><text x="1359" y="108" font-size="4.1">Again, if it's a good<tspan x="1359" dy="6.1">cause and I trusted</tspan><tspan x="1359" dy="6.1">that my money was</tspan><tspan x="1359" dy="6.1">being put to good</tspan><tspan x="1359" dy="6.1">use and not ending</tspan><tspan x="1359" dy="6.1">up in people pockets</tspan></text></g>
<g id="df5"><rect class="p" x="1388" y="97" width="52" height="53"/><text x="1414" y="105" font-size="4.1">I didn't get an email<tspan x="1414" dy="6">confirmation so I</tspan><tspan x="1414" dy="6">wasn't sure if my</tspan><tspan x="1414" dy="6">donation went</tspan><tspan x="1414" dy="6">through until I saw it</tspan><tspan x="1414" dy="6">in my bank</tspan><tspan x="1414" dy="6">statement.</tspan></text></g>
<g id="df6"><rect class="r" x="1443" y="97" width="52" height="53"/><text x="1469" y="108" font-size="4.1">money wasn't used<tspan x="1469" dy="6.1">for what they said,</tspan><tspan x="1469" dy="6.1">sent too many</tspan><tspan x="1469" dy="6.1">emails after. leaders</tspan><tspan x="1469" dy="6.1">used money for</tspan><tspan x="1469" dy="6.1">themselves.</tspan></text></g>

<!-- Volunteer -->
<g id="vo1"><rect class="y" x="1272" y="189" width="52" height="53"/><text x="1298" y="199" font-size="6.5">a calendar I<tspan x="1298" dy="9.5">can choose</tspan><tspan x="1298" dy="9.5">events to</tspan><tspan x="1298" dy="9.5">volunteer for</tspan></text></g>
<g id="vo2"><rect class="l" x="1328" y="189" width="52" height="53"/><text x="1354" y="200" font-size="4.3">If it's a good cause<tspan x="1354" dy="7">and it's</tspan><tspan x="1354" dy="7">convenient for me</tspan><tspan x="1354" dy="7">to volunteer with</tspan><tspan x="1354" dy="7">my schedule</tspan></text></g>
<g id="vo3"><rect class="y" x="1386" y="189" width="52" height="53"/><text x="1412" y="203" font-size="3">would feel comfortable<tspan x="1412" dy="4.6">getting involved without</tspan><tspan x="1412" dy="4.6">advertising what I'm doing.</tspan><tspan x="1412" dy="4.6">I'm doing this for myself. I</tspan><tspan x="1412" dy="4.6">don't want to force people</tspan><tspan x="1412" dy="4.6">to believe what I believe.</tspan></text></g>
<g id="vo4"><rect class="g" x="1441" y="189" width="52" height="53"/><text x="1467" y="196" font-size="4.3">If that cause is<tspan x="1467" dy="7">something I</tspan><tspan x="1467" dy="7">believe in and the</tspan><tspan x="1467" dy="7">information</tspan><tspan x="1467" dy="7">seems legitimate I</tspan><tspan x="1467" dy="7">would volunteer.</tspan></text></g>
<g id="vo5"><rect class="y" x="1272" y="245" width="52" height="53"/><text x="1298" y="253" font-size="4.5">It would help to<tspan x="1298" dy="6.8">easily find events</tspan><tspan x="1298" dy="6.8">near me and</tspan><tspan x="1298" dy="6.8">different</tspan><tspan x="1298" dy="6.8">dates/times to</tspan><tspan x="1298" dy="6.8">choose from.</tspan></text></g>
<g id="vo6"><rect class="y" x="1328" y="245" width="52" height="53"/><text x="1354" y="257" font-size="3.4">Would help to be clear<tspan x="1354" dy="5.6">of dates &amp; times in my</tspan><tspan x="1354" dy="5.6">area. Help to have</tspan><tspan x="1354" dy="5.6">calendar invites</tspan><tspan x="1354" dy="5.6">emailed about local</tspan><tspan x="1354" dy="5.6">events after signing up.</tspan></text></g>
<g id="vo7"><rect class="r" x="1386" y="245" width="52" height="53"/><text x="1412" y="257" font-size="7">info on how<tspan x="1412" dy="9.3">much time &amp;</tspan><tspan x="1412" dy="9.3">commitment</tspan><tspan x="1412" dy="9.3">to volunteer</tspan></text></g>
<g id="vo8"><rect class="l" x="1441" y="247" width="52" height="53"/><text x="1467" y="257" font-size="3.9">I don't mind if<tspan x="1467" dy="6.2">something is</tspan><tspan x="1467" dy="6.2">controversial if it's</tspan><tspan x="1467" dy="6.2">something I believe</tspan><tspan x="1467" dy="6.2">in and feel</tspan><tspan x="1467" dy="6.2">passionately about.</tspan></text></g>

<!-- Volunteer Frustration -->
<g id="vf1"><rect class="b" x="1313" y="332" width="52" height="53"/><text x="1339" y="343" font-size="2.9">Yes. My father and I joined<tspan x="1339" dy="4.8">a group volunteering for a</tspan><tspan x="1339" dy="4.8">non profit. The person</tspan><tspan x="1339" dy="4.8">running the group was</tspan><tspan x="1339" dy="4.8">narcissistic and it turned</tspan><tspan x="1339" dy="4.8">off the people trying to</tspan><tspan x="1339" dy="4.8">help.</tspan></text></g>
<g id="vf2"><rect class="y" x="1368" y="332" width="52" height="53"/><text x="1394" y="343" font-size="4.6">Difficult trying to<tspan x="1394" dy="7">find a time/place</tspan><tspan x="1394" dy="7">of event that</tspan><tspan x="1394" dy="7">worked with my</tspan><tspan x="1394" dy="7">schedule.</tspan></text></g>
<g id="vf3"><rect class="p" x="1423" y="332" width="52" height="53"/><text x="1449" y="338.5" font-size="4.3">volunteered once &amp;<tspan x="1449" dy="6.1">it was poorly</tspan><tspan x="1449" dy="6.1">organized. I was</tspan><tspan x="1449" dy="6.1">standing around a</tspan><tspan x="1449" dy="6.1">lot wondering what</tspan><tspan x="1449" dy="6.1">to do. Not a good</tspan><tspan x="1449" dy="6.1">use of my time.</tspan></text></g>
<g id="vf4"><rect class="p" x="1368" y="387" width="52" height="53"/><text x="1394" y="398" font-size="7">If it started<tspan x="1394" dy="9.3">to feel like a</tspan><tspan x="1394" dy="9.3">cult I would</tspan><tspan x="1394" dy="9.3">be turned off.</tspan></text></g>

<!-- School Concerns -->
<g id="sc1"><rect class="y" x="1313" y="486" width="52" height="53"/><rect class="t" x="1313" y="480" width="52" height="53"/><text x="1339" y="487" font-size="4.9">Pro-choice,<tspan x="1339" dy="7">against the</tspan><tspan x="1339" dy="7">government</tspan><tspan x="1339" dy="7">forcing people to</tspan><tspan x="1339" dy="7">get them in order</tspan><tspan x="1339" dy="7">to go to school.</tspan></text></g>
<g id="sc2"><rect class="b" x="1368" y="485" width="52" height="53"/><rect class="l" x="1368" y="478" width="52" height="53"/><text x="1394" y="491" font-size="2.9">I feel that they shouldn't be<tspan x="1394" dy="4.8">mandatory in order to</tspan><tspan x="1394" dy="4.8">participate in school and</tspan><tspan x="1394" dy="4.8">activities. It should be each</tspan><tspan x="1394" dy="4.8">individuals choice what</tspan><tspan x="1394" dy="4.8">they want for their child.</tspan></text></g>
<g id="sc3"><rect class="p" x="1423" y="478" width="52" height="53"/><text x="1449" y="488" font-size="2.9">I think it should be the<tspan x="1449" dy="4.8">parents' choice and not be</tspan><tspan x="1449" dy="4.8">mandatory in order to get</tspan><tspan x="1449" dy="4.8">your child into school. I had</tspan><tspan x="1449" dy="4.8">to have my son vaccinated</tspan><tspan x="1449" dy="4.8">in order to get him into</tspan><tspan x="1449" dy="4.8">school.</tspan></text></g>
<g id="sc4"><rect class="t" x="1313" y="543" width="52" height="53"/><text x="1339" y="551" font-size="2.9">I'm against being forced<tspan x="1339" dy="4.9">get vaccinations. I'm not</tspan><tspan x="1339" dy="4.9">going to give my youngest</tspan><tspan x="1339" dy="4.9">vaccinations, but if it comes</tspan><tspan x="1339" dy="4.9">down to being forced to</tspan><tspan x="1339" dy="4.9">let of school I would</tspan><tspan x="1339" dy="4.9">choose to get him</tspan><tspan x="1339" dy="4.9">vaccinated.</tspan></text></g>
<g id="sc5"><rect class="l" x="1368" y="541" width="52" height="53"/><text x="1394" y="549" font-size="2.9">I don't vaccinate my son so<tspan x="1394" dy="4.9">he has to be</tspan><tspan x="1394" dy="4.9">homeschooled. It doesn't</tspan><tspan x="1394" dy="4.9">affect us so much anymore</tspan><tspan x="1394" dy="4.9">but before when he was</tspan><tspan x="1394" dy="4.9">younger I couldn't get him</tspan><tspan x="1394" dy="4.9">into daycares or</tspan><tspan x="1394" dy="4.9">preschools.</tspan></text></g>
<g id="sc6"><rect class="y" x="1423" y="541" width="52" height="53"/><text x="1449" y="551" font-size="4.3">I have not wanted<tspan x="1449" dy="6.2">to vaccinate but I</tspan><tspan x="1449" dy="6.2">felt forced to</tspan><tspan x="1449" dy="6.2">vaccinate my 12 yr</tspan><tspan x="1449" dy="6.2">old in order for him</tspan><tspan x="1449" dy="6.2">to go back to school.</tspan></text></g>

<!-- Donating Needs -->
<g id="dn1"><rect class="r" x="798" y="255" width="52" height="53"/><text x="824" y="263" font-size="9">info on<tspan x="824" dy="11">where</tspan><tspan x="824" dy="11">donations</tspan><tspan x="824" dy="11">go</tspan></text></g>
<g id="dn2"><rect class="p" x="854" y="255" width="52" height="53"/><text x="880" y="267" font-size="7">If I knew<tspan x="880" dy="9">where the</tspan><tspan x="880" dy="9">money was</tspan><tspan x="880" dy="9">going exactly.</tspan></text></g>
<g id="dn3"><rect class="g" x="909" y="268" width="52" height="53"/><text x="935" y="309" font-size="4.6">the cause.</text><rect class="b" x="909" y="255" width="52" height="53"/><text x="935" y="280" font-size="8">Testimonials</text></g>
<g id="dn4"><rect class="b" x="964" y="255" width="52" height="53"/><text x="990" y="262" font-size="4.6">I would donate on<tspan x="990" dy="7">a website if I</tspan><tspan x="990" dy="7">believe in the non</tspan><tspan x="990" dy="7">profit and what</tspan><tspan x="990" dy="7">they are trying to</tspan><tspan x="990" dy="7">accomplish</tspan></text></g>
<g id="dn5"><rect class="y" x="798" y="311" width="52" height="53"/><text x="824" y="323" font-size="11.5">easy<tspan x="824" dy="13.5">donation</tspan><tspan x="824" dy="13.5">process</tspan></text></g>
<g id="dn6"><rect class="g" x="854" y="311" width="52" height="53"/><text x="880" y="323" font-size="4.6">I feel if it was a<tspan x="880" dy="7">reputable cause</tspan><tspan x="880" dy="7">and the money is</tspan><tspan x="880" dy="7">allocated towards</tspan><tspan x="880" dy="7">the cause</tspan></text></g>
<g id="dn7"><rect class="y" x="909" y="321" width="52" height="53"/><text x="935" y="329.5" font-size="4.6">Donated b/c I<tspan x="935" dy="6.8">believed in what</tspan><tspan x="935" dy="6.8">they were doing,</tspan><tspan x="935" dy="6.8">only donated</tspan><tspan x="935" dy="6.8">once to the same</tspan><tspan x="935" dy="6.8">organization.</tspan></text></g>
<g id="dn8"><rect class="b" x="964" y="318" width="52" height="53"/><text x="990" y="327" font-size="6.3">Yes as well as<tspan x="990" dy="8.3">the personal</tspan><tspan x="990" dy="8.3">research and</tspan><tspan x="990" dy="8.3">testimonials I</tspan><tspan x="990" dy="8.3">have read</tspan></text></g>

<!-- Form Preference -->
<g id="fp1"><rect class="g" x="1073" y="294" width="52" height="53"/><text x="1099" y="333" font-size="9">form</text><rect class="b" x="1073" y="276" width="52" height="52"/><rect class="l" x="1073" y="268" width="52" height="52"/><rect class="t" x="1073" y="260" width="52" height="53"/><text x="1099" y="269" font-size="8">prefer a<tspan x="1099" dy="11">one time,</tspan><tspan x="1099" dy="11">quick sign</tspan><tspan x="1099" dy="11">up</tspan></text></g>
<g id="fp2"><rect class="y" x="1128" y="266" width="52" height="53"/><rect class="p" x="1128" y="258" width="52" height="53"/><text x="1154" y="265" font-size="4.3">I'd like to be able<tspan x="1154" dy="7">to sign up for one</tspan><tspan x="1154" dy="7">event or login if I</tspan><tspan x="1154" dy="7">wanted to see</tspan><tspan x="1154" dy="7">other</tspan><tspan x="1154" dy="7">opportunities.</tspan></text></g>
<g id="fp3"><rect class="r" x="1187" y="258" width="52" height="53"/><text x="1213" y="271" font-size="8">58% prefer<tspan x="1213" dy="11.5">one time</tspan><tspan x="1213" dy="11.5">login</tspan></text></g>
<g id="fp4"><rect class="p" x="1128" y="321" width="52" height="53"/><text x="1154" y="338" font-size="11">easy to<tspan x="1154" dy="16">sign up</tspan></text></g>

<!-- Website Needs -->
<g id="wn1"><rect class="r" x="798" y="421" width="52" height="53"/><text x="824" y="429" font-size="8.3">well<tspan x="824" dy="11">explained</tspan><tspan x="824" dy="11">mission &amp;</tspan><tspan x="824" dy="11">causes</tspan></text></g>
<g id="wn2"><rect class="y" x="853" y="428" width="52" height="53"/><rect class="g" x="853" y="421" width="52" height="53"/><text x="879" y="428" font-size="6">Concise<tspan x="879" dy="8.5">information</tspan><tspan x="879" dy="8.5">that is easy to</tspan><tspan x="879" dy="8.5">read and not</tspan><tspan x="879" dy="8.5">too wordy.</tspan></text></g>
<g id="wn3"><rect class="l" x="907" y="421" width="52" height="53"/><text x="933" y="431" font-size="6.3">Facts and<tspan x="933" dy="9.5">information</tspan><tspan x="933" dy="9.5">about the</tspan><tspan x="933" dy="9.5">organization.</tspan></text></g>
<g id="wn4"><rect class="t" x="962" y="421" width="52" height="53"/><text x="988" y="428" font-size="4.4">when visiting a<tspan x="988" dy="7">site I look at he</tspan><tspan x="988" dy="7">causes &amp; what</tspan><tspan x="988" dy="7">they stand for &amp;</tspan><tspan x="988" dy="7">look for evidence</tspan><tspan x="988" dy="7">of them in action.</tspan></text></g>
<g id="wn5"><rect class="r" x="798" y="484" width="52" height="53"/><text x="824" y="497" font-size="9">big letters<tspan x="824" dy="11.5">&amp; pretty</tspan><tspan x="824" dy="11.5">pictures</tspan></text></g>
<g id="wn6"><rect class="p" x="853" y="484" width="52" height="53"/><text x="879" y="496" font-size="6">I like websites<tspan x="879" dy="8.5">that are nice to</tspan><tspan x="879" dy="8.5">look at and</tspan><tspan x="879" dy="8.5">easy to use.</tspan></text></g>
<g id="wn7"><rect class="l" x="907" y="484" width="52" height="53"/><text x="933" y="492" font-size="6">transparency<tspan x="933" dy="8.3">about the</tspan><tspan x="933" dy="8.3">organization</tspan><tspan x="933" dy="8.3">and their</tspan><tspan x="933" dy="8.3">needs</tspan></text></g>
<g id="wn8"><rect class="l" x="964" y="494" width="52" height="53"/><rect class="b" x="964" y="484" width="52" height="53"/><text x="990" y="496" font-size="6">Attraction to a<tspan x="990" dy="8.5">website would</tspan><tspan x="990" dy="8.5">be a common</tspan><tspan x="990" dy="8.5">interest</tspan></text></g>
<g id="wn9"><rect class="r" x="798" y="548" width="52" height="53"/><text x="824" y="558" font-size="6.4">47% attracted<tspan x="824" dy="9.2">to design and</tspan><tspan x="824" dy="9.2">layout of</tspan><tspan x="824" dy="9.2">sites</tspan></text></g>
<g id="wn10"><rect class="p" x="853" y="548" width="52" height="53"/><text x="879" y="555" font-size="4.6">pictures of<tspan x="879" dy="6.8">previous events,</tspan><tspan x="879" dy="6.8">what type of work</tspan><tspan x="879" dy="6.8">I could be doing</tspan><tspan x="879" dy="6.8">with the</tspan><tspan x="879" dy="6.8">organization.</tspan></text></g>

<!-- Volunteer Needs -->
<g id="vn1"><rect class="g" x="1061" y="427" width="52" height="53"/><text x="1087" y="435" font-size="5.8">Being with<tspan x="1087" dy="8.3">like-minded</tspan><tspan x="1087" dy="8.3">people is</tspan><tspan x="1087" dy="8.3">something I</tspan><tspan x="1087" dy="8.3">can appreciate</tspan></text></g>
<g id="vn2"><rect class="r" x="1116" y="427" width="52" height="53"/><text x="1142" y="439" font-size="5.8">Safety<tspan x="1142" dy="8.3">precautions</tspan><tspan x="1142" dy="8.3">and guarantee</tspan><tspan x="1142" dy="8.3">to privacy</tspan></text></g>
<g id="vn3"><rect class="t" x="1171" y="427" width="52" height="53"/><text x="1197" y="437.5" font-size="4.3">seeing<tspan x="1197" dy="7.2">testimonials of</tspan><tspan x="1197" dy="7.2">other people that</tspan><tspan x="1197" dy="7.2">have volunteered</tspan><tspan x="1197" dy="7.2">in the past.</tspan></text></g>
<g id="vn4"><rect class="y" x="1227" y="427" width="52" height="53"/><text x="1253" y="437" font-size="4.6">info on specifics<tspan x="1253" dy="7.5">on what to</tspan><tspan x="1253" dy="7.5">wear, what to</tspan><tspan x="1253" dy="7.5">write on signs,</tspan><tspan x="1253" dy="7.5">where to meet</tspan></text></g>
<g id="vn5"><rect class="p" x="1061" y="486" width="52" height="53"/><text x="1087" y="494" font-size="5.8">select the<tspan x="1087" dy="8.3">terms of what</tspan><tspan x="1087" dy="8.3">I'd be doing</tspan><tspan x="1087" dy="8.3">and when I</tspan><tspan x="1087" dy="8.3">volunteer.</tspan></text></g>
<g id="vn6"><rect class="r" x="1116" y="486" width="52" height="53"/><text x="1142" y="495" font-size="4.7">Credibility &amp; the<tspan x="1142" dy="8">cause made</tspan><tspan x="1142" dy="8">them want to</tspan><tspan x="1142" dy="8">sign up to</tspan><tspan x="1142" dy="8">volunteer</tspan></text></g>
<g id="vn7"><rect class="g" x="1171" y="486" width="52" height="53"/><text x="1197" y="494" font-size="5.8">Having a type<tspan x="1197" dy="8.3">of volunteer</tspan><tspan x="1197" dy="8.3">partner or</tspan><tspan x="1197" dy="8.3">team to work</tspan><tspan x="1197" dy="8.3">with</tspan></text></g>
<g id="vn8"><rect class="t" x="1227" y="486" width="52" height="53"/><text x="1253" y="495" font-size="4.8">seeing other<tspan x="1253" dy="8">people getting</tspan><tspan x="1253" dy="8">involved, having</tspan><tspan x="1253" dy="8">someone I know</tspan><tspan x="1253" dy="8">go with me</tspan></text></g>
<g id="vn9"><rect class="t" x="1061" y="549" width="52" height="57"/><rect class="b" x="1061" y="549" width="52" height="4" style="filter:none"/><text x="1087" y="562" font-size="5.8">depending on<tspan x="1087" dy="8.3">locations I</tspan><tspan x="1087" dy="8.3">would be</tspan><tspan x="1087" dy="8.3">willing to get</tspan><tspan x="1087" dy="8.3">involved.</tspan></text></g>
<g id="vn10"><rect class="t" x="1116" y="549" width="52" height="53"/><text x="1142" y="569" font-size="7.8">community<tspan x="1142" dy="10.5">&amp; support</tspan></text></g>
</svg>
